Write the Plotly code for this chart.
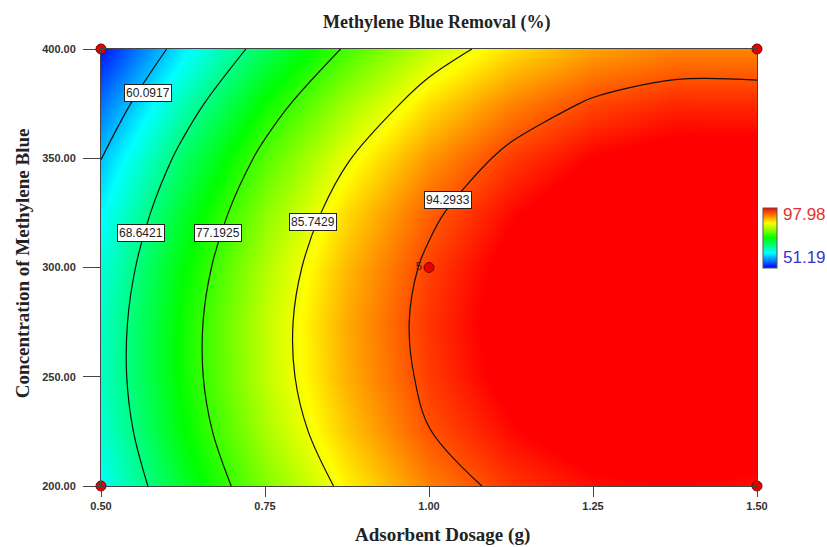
import plotly.graph_objects as go

# ---- data (read / estimated from the reference picture) ----
dosage = [0.5, 0.625, 0.75, 0.875, 1.0, 1.125, 1.25, 1.375, 1.5]          # g
concentration = [200, 225, 250, 275, 300, 325, 350, 375, 400]             # mg/L
# estimated removal (%) at each grid point, rows = concentration, cols = dosage
removal = [
    [63.36, 72.60, 80.41, 86.79, 92.10, 95.50, 97.35, 98.01, 97.24],
    [64.93, 74.33, 82.30, 88.84, 94.20, 97.63, 99.89, 100.71, 100.10],
    [65.65, 75.19, 83.30, 89.98, 95.24, 99.06, 101.45, 102.42, 101.95],
    [65.51, 75.18, 83.41, 90.22, 95.59, 99.54, 102.05, 103.14, 102.79],
    [64.53, 74.30, 82.64, 89.54, 95.02, 99.07, 101.69, 102.87, 102.63],
    [62.70, 72.55, 80.97, 87.96, 93.52, 97.65, 100.35, 101.62, 101.46],
    [60.02, 69.93, 78.41, 85.46, 91.09, 95.28, 98.04, 99.38, 99.28],
    [56.48, 66.44, 74.97, 82.06, 87.73, 91.96, 94.77, 96.15, 96.09],
    [52.10, 62.08, 70.63, 77.75, 83.60, 87.70, 90.53, 91.93, 91.90],
]
z_min, z_max = 51.19, 97.98
contour_levels = [60.0917, 68.6421, 77.1925, 85.7429, 94.2933]
label_x = [0.572, 0.561, 0.678, 0.823, 1.029]
label_y = [379.9, 315.8, 315.8, 320.6, 330.7]
label_text = ["60.0917", "68.6421", "77.1925", "85.7429", "94.2933"]
design_x = [0.5, 0.5, 1.5, 1.5, 1.0]
design_y = [200, 400, 200, 400, 300]
design_text = ["", "", "", "", "5"]
x_ticks = [0.5, 0.75, 1.0, 1.25, 1.5]
y_ticks = [200, 250, 300, 350, 400]

spectrum = [[0.0, "#0000ff"], [0.25, "#00ffff"], [0.5, "#00ff00"],
            [0.75, "#ffff00"], [1.0, "#ff0000"]]

fig = go.Figure()
fig.add_trace(go.Heatmap(
    x=dosage, y=concentration, z=removal, zmin=z_min, zmax=z_max,
    zsmooth="best", colorscale=spectrum, hoverinfo="skip",
    colorbar=dict(x=1.009, xanchor="left", xpad=0, ypad=0,
                  y=0.5675, yanchor="middle", lenmode="pixels", len=60,
                  thickness=14, outlinecolor="#555", outlinewidth=1,
                  showticklabels=False, ticks=""),
))
step = contour_levels[1] - contour_levels[0]
fig.add_trace(go.Contour(
    x=dosage, y=concentration, z=removal, showscale=False,
    autocontour=False,
    contours=dict(start=contour_levels[0], end=contour_levels[-1], size=step,
                  coloring="lines", showlabels=False),
    colorscale=[[0, "#111"], [1, "#111"]],
    line=dict(width=1.2, smoothing=1.0), hoverinfo="skip",
))
fig.add_trace(go.Scatter(
    x=design_x, y=design_y, mode="markers+text", text=design_text,
    textposition="middle left", textfont=dict(size=11, color="#4a1500",
                                              family="Liberation Sans"),
    marker=dict(size=10, color="#e80000", line=dict(color="#7a0000", width=1)),
    cliponaxis=False, hoverinfo="skip", showlegend=False,
))

for lx, ly, lt in zip(label_x, label_y, label_text):
    fig.add_annotation(x=lx, y=ly, text=lt, showarrow=False, bgcolor="white",
                       bordercolor="#222", borderwidth=1, borderpad=1,
                       font=dict(size=12, color="#222", family="Liberation Sans"))

serif = "Liberation Serif"
fig.add_annotation(xref="paper", yref="paper", x=0.511, y=1.06,
                   xanchor="center", yanchor="middle",
                   text="<b>Methylene Blue Removal (%)</b>", showarrow=False,
                   font=dict(size=18, family=serif, color="#222"))
fig.add_annotation(xref="paper", yref="paper", x=0.52, y=-0.112,
                   xanchor="center", yanchor="middle",
                   text="<b>Adsorbent Dosage (g)</b>", showarrow=False,
                   font=dict(size=19, family=serif, color="#222"))
fig.add_annotation(xref="paper", yref="paper", x=-0.1204, y=0.51,
                   xanchor="center", yanchor="middle",
                   text="<b>Concentration of Methylene Blue</b>", showarrow=False,
                   textangle=-90, font=dict(size=19, family=serif, color="#222"))
fig.add_annotation(xref="paper", yref="paper", x=1.0366, y=0.622,
                   xanchor="left", yanchor="middle",
                   text=f"{z_max:.2f}", showarrow=False,
                   font=dict(size=17, family="Liberation Sans", color="#e53232"))
fig.add_annotation(xref="paper", yref="paper", x=1.0366, y=0.522,
                   xanchor="left", yanchor="middle",
                   text=f"{z_min:.2f}", showarrow=False,
                   font=dict(size=17, family="Liberation Sans", color="#3535d0"))

tickfont = dict(size=11, family="Liberation Sans", color="#333", weight="bold")
fig.update_xaxes(range=[0.5, 1.5], tickvals=x_ticks, tickformat=".2f",
                 ticks="outside", ticklen=10, tickcolor="#444", tickfont=tickfont,
                 showline=True, mirror=True, linecolor="#444", linewidth=1,
                 showgrid=False, zeroline=False)
fig.update_yaxes(range=[200, 400], tickvals=y_ticks, tickformat=".2f",
                 ticks="outside", ticklen=17, tickcolor="#444", tickfont=tickfont,
                 ticklabelstandoff=5,
                 showline=True, mirror=True, linecolor="#444", linewidth=1,
                 showgrid=False, zeroline=False)
fig.update_layout(width=827, height=547, margin=dict(l=101, r=70, t=49, b=61),
                  paper_bgcolor="white", plot_bgcolor="white", showlegend=False)
fig.write_html("out.html", config={"displayModeBar": False},
               post_script="document.body.style.margin='0';"
                           "document.body.style.overflow='hidden';")
